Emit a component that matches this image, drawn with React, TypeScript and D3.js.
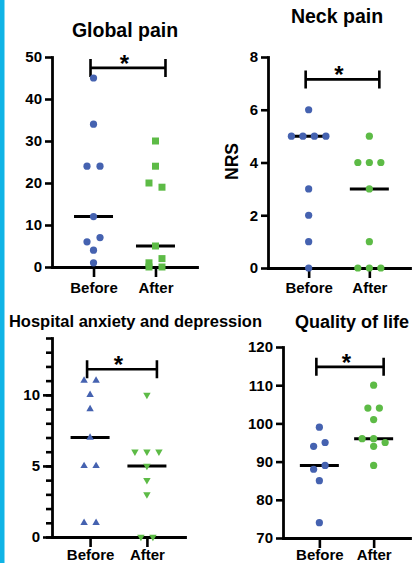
import { useRef, useEffect } from 'react';
import * as d3 from 'd3';

const categories = ['Before', 'After'];

const globalBefore = [45, 34, 24, 24, 12, 6, 7, 4, 1];
const globalAfter = [30, 24, 20, 19, 5, 1, 2, 0, 0];
const globalTicks = [0, 10, 20, 30, 40, 50];

const neckBefore = [6, 5, 5, 5, 5, 3, 2, 1, 0];
const neckAfter = [5, 4, 4, 4, 3, 1, 0, 0, 0];
const neckTicks = [0, 2, 4, 6, 8];

const hadsBefore = [11, 11, 10, 9, 7, 5, 5, 1, 1];
const hadsAfter = [10, 6, 6, 6, 5, 4, 3, 0, 0];
const hadsTicks = [0, 5, 10];
const hadsMinor = d3.range(0, 15);

const qolBefore = [99, 94, 95, 88, 89, 85, 74];
const qolAfter = [110, 104, 104, 101, 96, 96, 95, 94, 89];
const qolTicks = [70, 80, 90, 100, 110, 120];

const BLUE = '#4562b0';
const GREEN = '#5dbb46';
const FONT = '"Liberation Sans", Arial, sans-serif';

const panels = [
  {
    title: 'Global pain', before: globalBefore, after: globalAfter, domain: [0, 50], ticks: globalTicks,
    left: 52, right: 197, top: 57, bottom: 267, titleX: 125, titleY: 37, titleSize: 19.5,
    bracketAt: 47.4, spread: 13, shapes: ['circle', 'square'], labelPad: 5,
  },
  {
    title: 'Neck pain', before: neckBefore, after: neckAfter, domain: [0, 8], ticks: neckTicks, yLabel: 'NRS',
    left: 268, right: 410, top: 57, bottom: 268, titleX: 337, titleY: 23, titleSize: 19.5,
    bracketAt: 7.15, spread: 11.5, shapes: ['circle', 'circle'], labelPad: 4,
  },
  {
    title: 'Hospital anxiety and depression', before: hadsBefore, after: hadsAfter, domain: [0, 14], ticks: hadsTicks,
    minor: hadsMinor,
    left: 52, right: 185, top: 338, bottom: 537, titleX: 135.5, titleY: 327, titleSize: 16.5,
    bracketAt: 11.8, spread: 12, shapes: ['up', 'down'], labelPad: 2,
  },
  {
    title: 'Quality of life', before: qolBefore, after: qolAfter, domain: [70, 120], ticks: qolTicks,
    left: 283, right: 410, top: 347, bottom: 538, titleX: 352, titleY: 328, titleSize: 18,
    bracketAt: 114.8, spread: 11.5, shapes: ['circle', 'circle'], labelPad: 1,
  },
];

// spread points that sit at (almost) the same height side by side
const swarm = (vals: number[], y: (v: number) => number, spread: number) => {
  const order = d3.range(vals.length).sort((a, b) => vals[b] - vals[a] || a - b);
  const rows: number[][] = [];
  order.forEach(i => {
    const row = rows[rows.length - 1];
    if (row && y(vals[i]) - y(vals[row[0]]) < 7) row.push(i);
    else rows.push([i]);
  });
  const dx = new Array(vals.length).fill(0);
  rows.forEach(row => {
    row.sort((a, b) => a - b).forEach((i, k) => { dx[i] = (k - (row.length - 1) / 2) * spread; });
  });
  return dx;
};

const symbolFor = (shape: string) => {
  if (shape === 'square') return d3.symbol(d3.symbolSquare, 49)();
  if (shape === 'up' || shape === 'down') return d3.symbol(d3.symbolTriangle, 24)();
  return d3.symbol(d3.symbolCircle, 41)();
};

const styleAxis = (g: any) => {
  g.selectAll('.domain').attr('stroke', '#000').attr('stroke-width', 2.8).attr('stroke-linecap', 'square');
  g.selectAll('.tick line').attr('stroke', '#000').attr('stroke-width', 2.6);
  g.selectAll('text').attr('fill', '#000').attr('font-family', FONT).attr('font-weight', 'bold').attr('font-size', 15);
};

const Chart = ({ width = 412, height = 563 }) => {
  const ref = useRef<SVGSVGElement>(null);

  useEffect(() => {
    const svg = d3.select(ref.current);
    svg.selectAll('*').remove();

    svg.append('rect').attr('x', 0).attr('y', 0).attr('width', 4.5).attr('height', height).attr('fill', '#10b4e6');

    panels.forEach(p => {
      const g = svg.append('g');
      const x = d3.scalePoint().domain(categories).range([p.left, p.right]).padding(0.67);
      const y = d3.scaleLinear().domain(p.domain).range([p.bottom, p.top]);

      g.append('text')
        .attr('x', p.titleX).attr('y', p.titleY)
        .attr('text-anchor', 'middle')
        .attr('font-family', FONT).attr('font-weight', 'bold').attr('font-size', p.titleSize)
        .text(p.title);

      if (p.minor) {
        const mg = g.append('g').attr('transform', `translate(${p.left},0)`)
          .call(d3.axisLeft(y).tickValues(p.minor).tickSize(6).tickSizeOuter(0).tickFormat(() => ''));
        mg.select('.domain').remove();
        styleAxis(mg);
      }

      const ya = g.append('g').attr('transform', `translate(${p.left},0)`)
        .call(d3.axisLeft(y).tickValues(p.ticks).tickSize(p.minor ? 9 : 7).tickSizeOuter(0).tickPadding(3).tickFormat(d3.format('d')));
      styleAxis(ya);

      const xa = g.append('g').attr('transform', `translate(0,${p.bottom})`)
        .call(d3.axisBottom(x).tickSize(10).tickSizeOuter(0).tickPadding(p.labelPad));
      styleAxis(xa);

      if (p.yLabel) {
        g.append('text')
          .attr('transform', `translate(238,161.5) rotate(-90)`)
          .attr('text-anchor', 'middle')
          .attr('font-family', FONT).attr('font-weight', 'bold').attr('font-size', 17.5)
          .text(p.yLabel);
      }

      // significance bracket
      const by = y(p.bracketAt);
      const xl = x('Before')! - 3;
      const xr = x('After')! + 10;
      g.append('path')
        .attr('d', `M${xl},${by - 9}V${by + 9}M${xl},${by}H${xr}M${xr},${by - 9}V${by + 9}`)
        .attr('fill', 'none').attr('stroke', '#000').attr('stroke-width', 2.6);
      g.append('text')
        .attr('x', (x('Before')! + x('After')!) / 2).attr('y', by + 4)
        .attr('text-anchor', 'middle')
        .attr('font-family', FONT).attr('font-weight', 'bold').attr('font-size', 24)
        .text('*');

      const groups = [
        { cat: 'Before', vals: p.before, shape: p.shapes[0], color: BLUE },
        { cat: 'After', vals: p.after, shape: p.shapes[1], color: GREEN },
      ];

      groups.forEach(s => {
        const cx = x(s.cat)!;
        const m = d3.median(s.vals)!;
        g.append('line')
          .attr('x1', cx - 19.5).attr('x2', cx + 19.5)
          .attr('y1', y(m)).attr('y2', y(m))
          .attr('stroke', '#000').attr('stroke-width', 3);
      });

      groups.forEach(s => {
        const cx = x(s.cat)!;
        const dx = swarm(s.vals, y, p.spread);
        g.selectAll(null)
          .data(s.vals)
          .enter().append('path')
          .attr('d', symbolFor(s.shape))
          .attr('transform', (d, i) =>
            `translate(${cx + dx[i]},${y(d)})${s.shape === 'down' ? ' rotate(180)' : ''}`)
          .attr('fill', s.color);
      });
    });
  }, [width, height]);

  return (
    <svg ref={ref} width={width} height={height}
      style={{ position: 'absolute', left: 0, top: 0, background: '#fff' }}></svg>
  );
};

export default function App() {
  return <Chart />;
}
